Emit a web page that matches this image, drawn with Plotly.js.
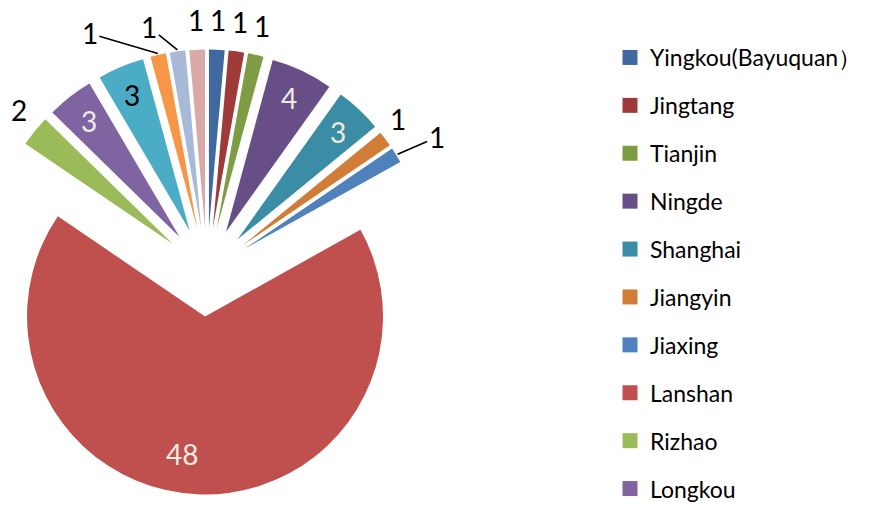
<!DOCTYPE html>
<html><head><meta charset="utf-8">
<script src="https://cdn.plot.ly/plotly-3.0.1.min.js"></script>
<style>
html,body{margin:0;padding:0;overflow:hidden;background:#fff}
#chart{position:absolute;left:-20px;top:0;width:892px;height:520px}
</style>
</head><body><div id="chart"></div>
<script>
// ---- data ----
const ports = ["Yingkou(Bayuquan）","Jingtang","Tianjin","Ningde","Shanghai","Jiangyin","Jiaxing","Lanshan","Rizhao","Longkou","Port 11","Port 12","Port 13","Port 14"];
const counts = [1,1,1,4,3,1,1,48,2,3,3,1,1,1];
const legendPorts = ports.slice(0, 10);

// ---- styles ----
const sliceColors = ["#3F69A0","#9E3B39","#7E9C44","#684E87","#3A8DA4","#D17D38","#4F81BD","#C0504D","#9BBB59","#8064A2","#4BACC6","#F79646","#A9B9D8","#D9A9A8"];
const labelPlacement = ["outside","outside","outside","inside","inside","outside","outside","inside","outside","inside","inside","outside","outside","outside"];
const labelColors = ["#000","#000","#000","#EEECE1","#EEECE1","#000","#000","#EEECE1","#000","#EEECE1","#000","#000","#000","#000"];
// leader-line offsets (px) for labels moved away from their slice
const leaderOffsets = {6: [39, -17], 11: [-68, -20], 12: [-28, -23]};
// small label nudges (px)
const labelNudge = {5: [-8, -4], 7: [-16, -10], 8: [5, -4]};

const FONT = "Lato, 'Noto Sans', sans-serif";
const W = 892, H = 520, PULL = 0.25;
const domX = [0, 454/892], domY = [(H - 494.5)/H, (H - 49.5)/H];

const pie = {
  type: "pie",
  labels: ports,
  values: counts,
  sort: false,
  direction: "clockwise",
  rotation: 0,
  pull: PULL,
  marker: {colors: sliceColors, line: {width: 0}},
  textinfo: "none",
  showlegend: false,
  hoverinfo: "label+value",
  domain: {x: domX, y: domY}
};

// pie geometry as Plotly computes it (for placing the value labels)
const boxW = W * (domX[1] - domX[0]), boxH = H * (domY[1] - domY[0]);
const R = Math.min(boxW, boxH) / 2 / (1 + PULL);
const CX = W * (domX[0] + domX[1]) / 2;
const CY = H * (1 - (domY[0] + domY[1]) / 2);
const total = counts.reduce((a, b) => a + b, 0);
let cum = 0;
const annotations = counts.map((v, i) => {
  const mid = (cum + v / 2) / total * 2 * Math.PI; cum += v;
  const s = Math.sin(mid), c = Math.cos(mid);
  const apexX = CX + PULL * R * s, apexY = CY - PULL * R * c;
  const n = labelNudge[i] || [0, 0];
  const base = {text: String(v), xref: "paper", yref: "paper",
    font: {family: FONT, size: 28, color: labelColors[i]}};
  if (labelPlacement[i] === "inside") {
    const d = 0.83 * R;
    return Object.assign(base, {x: (apexX + d * s + n[0]) / W, y: 1 - (apexY - d * c + n[1]) / H,
      showarrow: false, xanchor: "center", yanchor: "middle"});
  }
  if (leaderOffsets[i]) {
    const d = R + 1.5, o = leaderOffsets[i];
    return Object.assign(base, {x: (apexX + d * s) / W, y: 1 - (apexY - d * c) / H,
      showarrow: true, arrowhead: 0, arrowwidth: 1.6, arrowcolor: "#000", standoff: 0,
      ax: o[0], ay: o[1], axref: "pixel", ayref: "pixel"});
  }
  const d = R + 20 + 10 * Math.abs(c);
  return Object.assign(base, {x: (apexX + d * s + n[0]) / W, y: 1 - (apexY - d * c + n[1]) / H,
    showarrow: false, xanchor: "center", yanchor: "middle"});
});

const legendTraces = legendPorts.map((name, i) => ({
  type: "scatter",
  mode: "markers",
  x: [null], y: [null],
  name: name,
  legendgroup: "g" + i,
  marker: {symbol: "square", size: 15, color: sliceColors[i], line: {width: 0}},
  showlegend: true,
  hoverinfo: "skip"
}));

const layout = {
  width: W, height: H,
  margin: {l: 0, r: 0, t: 0, b: 0},
  paper_bgcolor: "#fff", plot_bgcolor: "#fff",
  xaxis: {visible: false}, yaxis: {visible: false},
  showlegend: true,
  annotations: annotations,
  legend: {
    x: 630/892, xanchor: "left", y: 1 - 36/H, yanchor: "top",
    font: {family: FONT, size: 23, color: "#000"},
    tracegroupgap: 15,
    bgcolor: "rgba(0,0,0,0)", borderwidth: 0,
    itemclick: false, itemdoubleclick: false
  },
  font: {family: FONT}
};

Plotly.newPlot("chart", [pie, ...legendTraces], layout, {displayModeBar: false, staticPlot: true});
</script>
</body></html>
